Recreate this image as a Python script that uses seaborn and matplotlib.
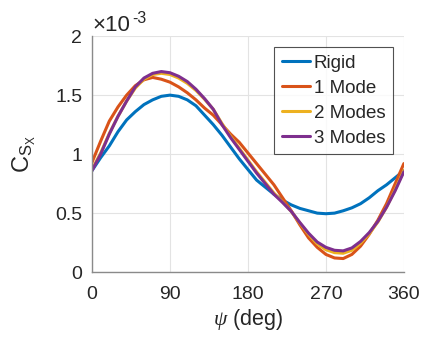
import numpy as np
import pandas as pd
import matplotlib
matplotlib.use("Agg")
import matplotlib.pyplot as plt
import seaborn as sns

# Data (values in units of 1e-3)
psi = list(range(0, 361, 10))
rigid = [0.86, 0.97, 1.07, 1.19, 1.29, 1.36, 1.42, 1.46, 1.49, 1.50,
         1.49, 1.46, 1.41, 1.33, 1.25, 1.16, 1.06, 0.96, 0.87, 0.78,
         0.72, 0.66, 0.61, 0.57, 0.54, 0.52, 0.50, 0.495, 0.50, 0.52,
         0.545, 0.58, 0.63, 0.69, 0.74, 0.80, 0.86]
mode1 = [0.93, 1.11, 1.28, 1.40, 1.50, 1.58, 1.63, 1.65, 1.635, 1.61,
         1.57, 1.52, 1.46, 1.39, 1.33, 1.25, 1.17, 1.10, 1.01, 0.92,
         0.83, 0.74, 0.63, 0.52, 0.40, 0.29, 0.21, 0.15, 0.12, 0.115,
         0.15, 0.22, 0.32, 0.44, 0.58, 0.75, 0.92]
mode2 = [0.87, 1.01, 1.175, 1.32, 1.45, 1.56, 1.635, 1.675, 1.685, 1.675,
         1.645, 1.60, 1.54, 1.465, 1.38, 1.26, 1.15, 1.05, 0.95, 0.85,
         0.76, 0.67, 0.595, 0.515, 0.415, 0.32, 0.24, 0.19, 0.165, 0.16,
         0.185, 0.245, 0.325, 0.425, 0.55, 0.70, 0.86]
mode3 = [0.86, 1.00, 1.17, 1.32, 1.45, 1.57, 1.645, 1.685, 1.70, 1.69,
         1.66, 1.615, 1.55, 1.47, 1.38, 1.25, 1.14, 1.04, 0.94, 0.84,
         0.75, 0.66, 0.59, 0.515, 0.42, 0.33, 0.255, 0.21, 0.185, 0.18,
         0.205, 0.26, 0.335, 0.43, 0.55, 0.69, 0.85]
series_names = ["Rigid", "1 Mode", "2 Modes", "3 Modes"]
colors = ["#0072BD", "#D95319", "#EDB120", "#7E2F8E"]
xticks = [0, 90, 180, 270, 360]
xtick_labels = ["0", "90", "180", "270", "360"]
yticks = [0, 0.5, 1, 1.5, 2]
ytick_labels = ["0", "0.5", "1", "1.5", "2"]

df = pd.concat([
    pd.DataFrame({"psi": psi, "C": vals, "Case": name})
    for name, vals in zip(series_names, [rigid, mode1, mode2, mode3])
], ignore_index=True)

sns.set_theme(style="white")
plt.rcParams["font.family"] = ["Liberation Sans", "DejaVu Sans"]
plt.rcParams["mathtext.fontset"] = "custom"
plt.rcParams["mathtext.rm"] = "Liberation Sans"
plt.rcParams["mathtext.it"] = "Liberation Serif:italic"

txt = "#262626"
fig = plt.figure(figsize=(4.22, 3.41), dpi=100)
ax = fig.add_axes([0.218, 0.202, 0.739, 0.692])

sns.lineplot(data=df, x="psi", y="C", hue="Case", hue_order=series_names,
             palette=colors, linewidth=2.2, ax=ax, sort=False)

ax.set_xlim(0, 360)
ax.set_ylim(0, 2)
ax.set_xticks(xticks)
ax.set_xticklabels(xtick_labels)
ax.set_yticks(yticks)
ax.set_yticklabels(ytick_labels)
ax.grid(True, color="#e3e3e3", linewidth=0.8)
ax.set_axisbelow(True)
for s in ["top", "right"]:
    ax.spines[s].set_visible(False)
for s in ["left", "bottom"]:
    ax.spines[s].set_color("#8a8a8a")
    ax.spines[s].set_linewidth(1.0)
ax.tick_params(direction="in", length=3, width=0.8, color="#8a8a8a",
               labelsize=14, labelcolor=txt)
ax.tick_params(axis="x", pad=10)
ax.tick_params(axis="y", pad=7)

ax.set_xlabel(r"$\psi$ (deg)", fontsize=15.5, color=txt, labelpad=3)
ax.set_ylabel(r"$\mathrm{C_{S_X}}$", fontsize=17, color=txt, labelpad=12)

# exponent label (x10^-3)
ax.annotate("\u00d710", xy=(0, 1), xycoords="axes fraction",
            xytext=(0.5, 3.6), textcoords="offset points",
            fontsize=16, color=txt, ha="left", va="baseline")
ax.annotate("-3", xy=(0, 1), xycoords="axes fraction",
            xytext=(29, 9.6), textcoords="offset points",
            fontsize=11.5, color=txt, ha="left", va="baseline")

leg = ax.legend(loc="upper right", bbox_to_anchor=(0.965, 0.953),
                borderaxespad=0, fontsize=13.5, frameon=True, fancybox=False,
                handlelength=1.5, handletextpad=0.2, labelspacing=0.42,
                borderpad=0.4, title=None)
leg.get_frame().set_edgecolor(txt)
leg.get_frame().set_linewidth(0.8)
for line in leg.get_lines():
    line.set_linewidth(2.2)

fig.savefig("out.png", dpi=100)
